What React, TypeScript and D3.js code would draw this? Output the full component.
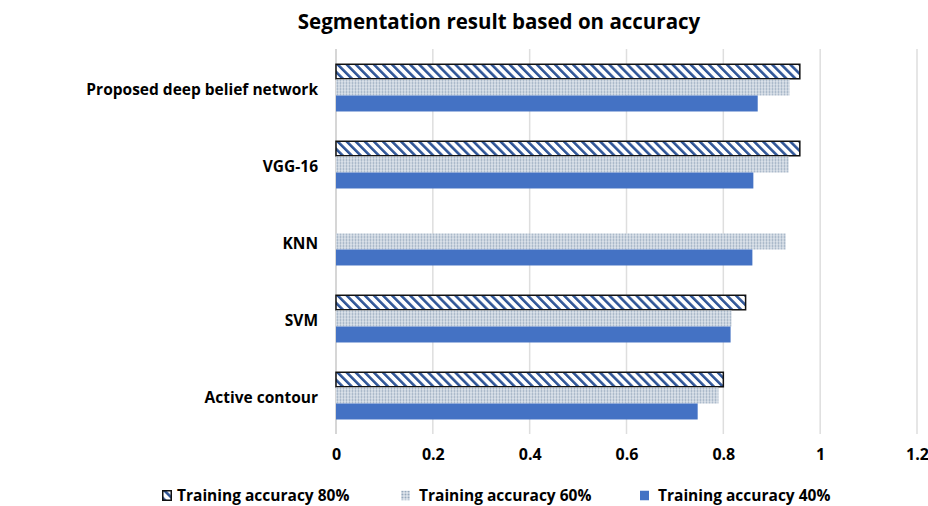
import React, { useEffect, useRef } from 'react';
import * as d3 from 'd3';

// Chart data
const categories = ['Proposed deep belief network', 'VGG-16', 'KNN', 'SVM', 'Active contour'];
const acc80 = [0.958, 0.958, 0, 0.846, 0.8];
const acc60 = [0.937, 0.935, 0.929, 0.817, 0.79];
const acc40 = [0.871, 0.862, 0.86, 0.815, 0.747];
const seriesNames = ['Training accuracy 80%', 'Training accuracy 60%', 'Training accuracy 40%'];
const xTicks = [0, 0.2, 0.4, 0.6, 0.8, 1, 1.2];

const FONT = '"Open Sans", Lato, sans-serif';

const App = () => {
  const svgRef = useRef<SVGSVGElement>(null);

  useEffect(() => {
    const svg = d3.select(svgRef.current);
    svg.selectAll('*').remove();

    const width = 928;
    const height = 506;
    const left = 336;
    const right = 917;
    const top = 49;
    const bottom = 434;

    svg.attr('width', width).attr('height', height);

    // Fill patterns: hatched, dotted
    const defs = svg.append('defs');
    const hatch = defs.append('pattern')
      .attr('id', 'hatch')
      .attr('patternUnits', 'userSpaceOnUse')
      .attr('width', 6.4)
      .attr('height', 6.4)
      .attr('patternTransform', 'rotate(-45)');
    hatch.append('rect').attr('width', 6.4).attr('height', 6.4).attr('fill', '#fff');
    hatch.append('rect').attr('width', 2.6).attr('height', 6.4).attr('fill', '#2f5597');

    const dots = defs.append('pattern')
      .attr('id', 'dots')
      .attr('patternUnits', 'userSpaceOnUse')
      .attr('width', 3)
      .attr('height', 3);
    dots.append('rect').attr('width', 3).attr('height', 3).attr('fill', '#dfe5ec');
    dots.append('circle').attr('cx', 1.5).attr('cy', 1.5).attr('r', 1).attr('fill', '#97a9bd');

    const fills = ['url(#hatch)', 'url(#dots)', '#4472c4'];
    const strokes = ['#111', 'none', 'none'];

    // Scales
    const x = d3.scaleLinear().domain([0, 1.2]).range([left, right]);
    const y = d3.scaleBand()
      .domain(categories)
      .range([top, bottom])
      .paddingInner(0.377)
      .paddingOuter(0.1885);
    const ySub = d3.scaleBand()
      .domain(seriesNames)
      .range([0, y.bandwidth()]);

    // Title
    svg.append('text')
      .attr('x', 499)
      .attr('y', 29)
      .attr('text-anchor', 'middle')
      .style('font-family', FONT)
      .style('font-weight', 'bold')
      .style('font-size', '20.5px')
      .attr('fill', '#000')
      .text('Segmentation result based on accuracy');

    // Gridlines
    svg.append('g')
      .selectAll('line')
      .data(xTicks)
      .enter().append('line')
      .attr('x1', d => x(d))
      .attr('x2', d => x(d))
      .attr('y1', top)
      .attr('y2', bottom)
      .attr('stroke', d => (d === 0 ? '#c8c8c8' : '#dedede'))
      .attr('stroke-width', 1.5);

    // Bars
    const rows = categories.map((c, i) => ({
      category: c,
      values: [acc80[i], acc60[i], acc40[i]],
    }));

    const groups = svg.append('g')
      .selectAll('g')
      .data(rows)
      .enter().append('g')
      .attr('transform', d => `translate(0,${y(d.category)})`);

    groups.selectAll('rect')
      .data(d => d.values.map((v, j) => ({ v, j })).filter(e => e.v > 0))
      .enter().append('rect')
      .attr('x', x(0))
      .attr('y', d => ySub(seriesNames[d.j])! + (d.j === 0 ? 0.75 : 0))
      .attr('width', d => x(d.v) - x(0))
      .attr('height', d => ySub.bandwidth() - (d.j === 0 ? 1.5 : 0))
      .attr('fill', d => fills[d.j])
      .attr('stroke', d => strokes[d.j])
      .attr('stroke-width', 1.5);

    // Category labels
    svg.append('g')
      .selectAll('text')
      .data(categories)
      .enter().append('text')
      .attr('x', 318)
      .attr('y', d => y(d)! + y.bandwidth() / 2 + 2)
      .attr('dy', '0.35em')
      .attr('text-anchor', 'end')
      .style('font-family', FONT)
      .style('font-weight', 'bold')
      .style('font-size', '15.5px')
      .attr('fill', '#000')
      .text(d => d);

    // X axis labels
    const axis = svg.append('g')
      .attr('transform', `translate(0,${bottom})`)
      .call(d3.axisBottom(x).tickValues(xTicks).tickSize(0).tickPadding(15).tickFormat(d => String(d)));
    axis.select('.domain').remove();
    axis.selectAll('text')
      .style('font-family', FONT)
      .style('font-weight', 'bold')
      .style('font-size', '16px')
      .attr('fill', '#000');

    // Legend
    const legendX = [162, 401, 640];
    const legend = svg.append('g')
      .selectAll('g')
      .data(seriesNames)
      .enter().append('g')
      .attr('transform', (d, i) => `translate(${legendX[i]},490)`);
    legend.append('rect')
      .attr('x', (d, i) => (i === 0 ? 0.75 : 0))
      .attr('y', 0.75)
      .attr('width', (d, i) => (i === 0 ? 8.5 : 9))
      .attr('height', 9.5)
      .attr('fill', (d, i) => fills[i])
      .attr('stroke', (d, i) => strokes[i])
      .attr('stroke-width', 1.5);
    legend.append('text')
      .attr('x', (d, i) => (i === 0 ? 15 : 18))
      .attr('y', 11)
      .style('font-family', FONT)
      .style('font-weight', 'bold')
      .style('font-size', '15.5px')
      .attr('fill', '#000')
      .text(d => d);
  }, []);

  return (
    <svg ref={svgRef} style={{ position: 'absolute', left: 0, top: 0, background: '#fff' }}></svg>
  );
};

export default App;
